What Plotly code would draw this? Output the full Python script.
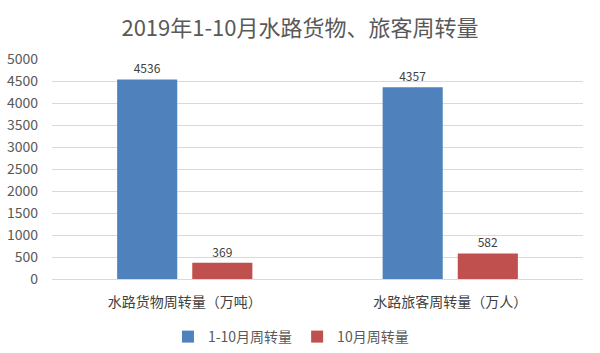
import plotly.graph_objects as go

categories = ["水路货物周转量（万吨）", "水路旅客周转量（万人）"]
series_names = ["1-10月周转量", "10月周转量"]
jan_oct = [4536, 4357]
october = [369, 582]
colors = ["#4F81BD", "#C0504D"]

FONT = "Noto Sans CJK SC, Microsoft YaHei, sans-serif"

fig = go.Figure()
for name, vals, c in zip(series_names, [jan_oct, october], colors):
    fig.add_trace(go.Bar(
        x=categories, y=vals, name=name,
        marker=dict(color=c, line=dict(width=0)),
        text=[str(v) for v in vals], textposition="outside",
        textfont=dict(size=12, color="#404040", family=FONT),
        cliponaxis=False,
    ))

fig.update_layout(
    width=600, height=353,
    margin=dict(l=52, r=17, t=59, b=74),
    paper_bgcolor="white", plot_bgcolor="white",
    barmode="group", bargap=0.434, bargroupgap=0.2,
    title=dict(text="2019年1-10月水路货物、旅客周转量", x=0.5, xanchor="center",
               y=0.92, yanchor="middle",
               font=dict(size=22, color="#595959", family=FONT)),
    font=dict(family=FONT, color="#595959"),
    legend=dict(orientation="h", x=0.45, xanchor="center", y=20, yanchor="bottom",
                yref="container",
                font=dict(size=14, color="#595959"), itemwidth=30,
                traceorder="normal"),
    showlegend=True,
)
fig.update_yaxes(range=[0, 5000], dtick=500, showgrid=True, gridcolor="#D9D9D9",
                 gridwidth=1, zeroline=False, showline=False, automargin=False,
                 tickfont=dict(size=14, color="#595959"), ticks="", ticklabelstandoff=13)
fig.update_xaxes(showline=True, linecolor="#D9D9D9", linewidth=1, automargin=False,
                 tickfont=dict(size=14, color="#404040"), ticks="", ticklabelstandoff=10)

fig.write_html("out.html")
